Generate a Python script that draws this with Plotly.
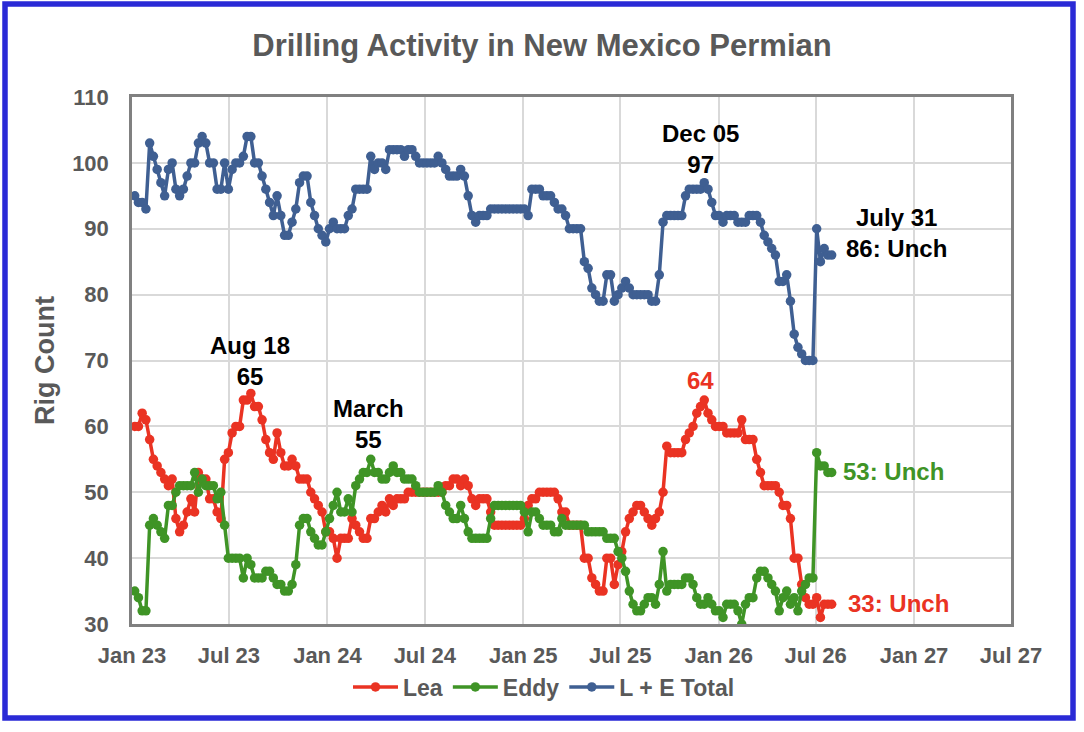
import pandas as pd
import plotly.graph_objects as go

# weekly rig counts, first week Jan 6 2023, last week July 31 2026
lea = [
    60, 60, 62, 61, 58, 55, 54, 53, 52, 51,
    52, 46, 44, 45, 47, 49, 47, 53, 52, 52,
    49, 49, 47, 46, 55, 56, 59, 60, 60, 64,
    64, 65, 63, 63, 61, 58, 56, 55, 59, 56,
    54, 54, 55, 54, 52, 52, 52, 50, 49, 48,
    47, 44, 44, 43, 40, 43, 43, 43, 46, 45,
    44, 43, 43, 46, 46, 47, 48, 47, 49, 48,
    49, 49, 49, 50, 50, 50, 50, 50, 50, 50,
    50, 50, 50, 51, 51, 52, 52, 51, 52, 51,
    49, 48, 49, 49, 49, 47, 45, 45, 45, 45,
    45, 45, 45, 45, 46, 48, 49, 49, 50, 50,
    50, 50, 50, 49, 47, 47, 45, 45, 45, 45,
    40, 40, 37, 36, 35, 35, 40, 40, 36, 39,
    41, 44, 46, 47, 48, 48, 47, 46, 45, 46,
    47, 50, 57, 56, 56, 56, 56, 58, 59, 60,
    62, 63, 64, 62, 61, 60, 60, 60, 59, 59,
    59, 59, 61, 58, 58, 58, 55, 53, 51, 51,
    51, 51, 50, 48, 48, 46, 40, 40, 36, 34,
    33, 33, 34, 31, 33, 33, 33,
]
eddy = [
    35, 34, 32, 32, 45, 46, 45, 44, 43, 48,
    48, 50, 51, 51, 51, 51, 53, 50, 52, 51,
    51, 51, 49, 50, 45, 40, 40, 40, 40, 37,
    40, 39, 37, 37, 37, 38, 38, 37, 36, 36,
    35, 35, 36, 39, 45, 46, 46, 44, 43, 42,
    42, 44, 46, 48, 50, 47, 47, 49, 47, 51,
    52, 53, 53, 55, 53, 53, 52, 52, 53, 54,
    53, 53, 52, 52, 52, 51, 50, 50, 50, 50,
    50, 51, 50, 48, 47, 46, 46, 48, 46, 44,
    43, 43, 43, 43, 43, 46, 48, 48, 48, 48,
    48, 48, 48, 48, 47, 44, 47, 47, 46, 45,
    45, 45, 44, 44, 46, 45, 45, 45, 45, 45,
    45, 44, 44, 44, 44, 44, 43, 43, 43, 41,
    40, 38, 35, 33, 32, 32, 33, 34, 34, 33,
    36, 41, 35, 36, 36, 36, 36, 37, 37, 36,
    34, 33, 33, 34, 33, 32, 32, 31, 33, 33,
    33, 32, 30, 33, 34, 34, 37, 38, 38, 37,
    36, 35, 32, 34, 35, 33, 34, 32, 35, 36,
    37, 37, 56, 54, 54, 53, 53,
]
total = [a + b for a, b in zip(lea, eddy)]
weeks = pd.date_range("2023-01-06", periods=len(lea), freq="7D")

RED = "#EA3323"
GREEN = "#3F9426"
BLUE = "#3F5F92"
GRAY = "#595959"
FONT = "Liberation Sans, Arial"

W, H = 1084, 732
ML, MR, MT, MB = 132, 73, 97, 108
PW, PH = W - ML - MR, H - MT - MB


def px(x):
    return (x - ML) / PW


def py(y):
    return (H - MB - y) / PH


fig = go.Figure()
for name, vals, col in [("Lea", lea, RED), ("Eddy", eddy, GREEN), ("L + E Total", total, BLUE)]:
    fig.add_trace(
        go.Scatter(
            x=weeks,
            y=vals,
            name=name,
            mode="lines+markers",
            line=dict(color=col, width=3.5),
            marker=dict(color=col, size=9.5),
        )
    )

notes = [
    ("Aug 18<br>65", 250, 361, "black"),
    ("March<br>55", 368, 424, "black"),
    ("Dec 05<br>97", 700, 149, "black"),
    ("July 31<br>86: Unch", 896, 233, "black"),
    ("64", 700, 381, RED),
    ("53: Unch", 893, 471, GREEN),
    ("33: Unch", 898, 603, RED),
]
for text, x, y, col in notes:
    fig.add_annotation(
        x=px(x), y=py(y), xref="paper", yref="paper", text=text, showarrow=False,
        font=dict(family=FONT, size=24, color=col, weight="bold"),
        align="center", xanchor="center", yanchor="middle",
    )

# blue frame round the whole picture
fig.add_shape(
    type="rect", xref="paper", yref="paper",
    x0=px(5), x1=px(1073), y0=py(718), y1=py(4),
    line=dict(color="#2A2AD6", width=5.5),
)

fig.update_layout(
    width=W,
    height=H,
    margin=dict(l=ML, r=MR, t=MT, b=MB),
    paper_bgcolor="white",
    plot_bgcolor="white",
    font=dict(family=FONT, color=GRAY),
    title=dict(
        text="<b>Drilling Activity in New Mexico Permian</b>",
        x=0.5, xref="container", xanchor="center", y=1 - 45 / H, yanchor="middle",
        font=dict(size=31, color=GRAY),
    ),
    showlegend=True,
    legend=dict(
        orientation="h", x=px(544), xanchor="center", y=py(687), yanchor="middle",
        font=dict(size=23, color=GRAY, weight="bold"),
        itemwidth=45,
    ),
)
fig.update_xaxes(
    range=["2023-01-01", "2027-07-01"],
    dtick="M6",
    tick0="2023-01-01",
    tickformat="%b %y",
    tickfont=dict(size=22, color=GRAY, weight="bold"),
    showgrid=True,
    gridcolor="#D9D9D9",
    gridwidth=2,
    showline=True,
    linecolor="#808080",
    linewidth=2.5,
    mirror=True,
    ticks="",
    ticklabelstandoff=10,
)
fig.update_yaxes(
    range=[30, 110],
    dtick=10,
    tickfont=dict(size=22, color=GRAY, weight="bold"),
    title=dict(text="Rig Count", font=dict(size=27, color=GRAY, weight="bold"), standoff=10),
    showgrid=True,
    gridcolor="#D9D9D9",
    gridwidth=2,
    showline=True,
    linecolor="#808080",
    linewidth=2.5,
    mirror=True,
    ticks="",
    ticklabelstandoff=16,
    zeroline=False,
)

fig.write_html(
    "out.html",
    config={"displayModeBar": False},
    post_script="document.body.style.margin = '0px';",
)
